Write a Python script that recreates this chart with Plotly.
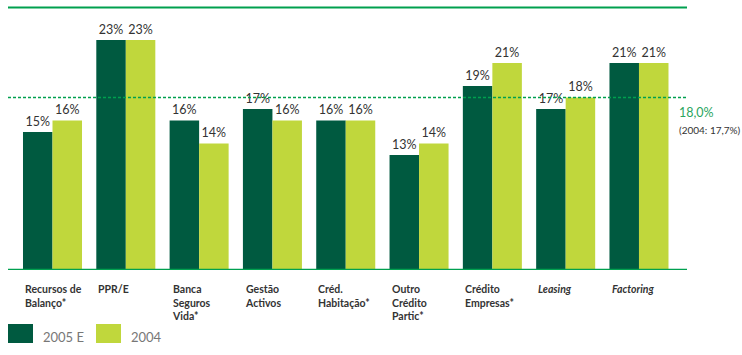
import plotly.graph_objects as go

categories = ["Recursos de<br>Balanço*", "PPR/E", "Banca<br>Seguros<br>Vida*", "Gestão<br>Activos",
              "Créd.<br>Habitação*", "Outro<br>Crédito<br>Partic*", "Crédito<br>Empresas*",
              "<i>Leasing</i>", "<i>Factoring</i>"]
values_2005 = [15, 23, 16, 17, 16, 13, 19, 17, 21]
values_2004 = [16, 23, 14, 16, 16, 14, 21, 18, 21]
average_2005 = 18.0
average_2004 = 17.7

DARK = "#005a40"
LIGHT = "#c0d73c"
LINE = "#00a04f"
TEXT = "#333333"

W, H = 742, 355
M_L, M_R, M_T, M_B = 8, 55, 10, 85
plot_w = W - M_L - M_R
plot_h = H - M_T - M_B


def px(xp):
    return (xp - M_L) / plot_w


def py(yp):
    return (H - M_B - yp) / plot_h


x = list(range(len(categories)))

fig = go.Figure()
for name, vals, col in [("2005 E", values_2005, DARK), ("2004", values_2004, LIGHT)]:
    fig.add_trace(go.Bar(
        x=x, y=vals, name=name, marker=dict(color=col, line=dict(width=0)),
        text=[f"{v}%" for v in vals], textposition="outside", cliponaxis=False,
        textfont=dict(family="Lato", size=12.5, color=TEXT),
        hoverinfo="skip",
    ))

# top rule and baseline
fig.add_shape(type="line", xref="paper", yref="paper", x0=0, x1=1, y0=py(7.5), y1=py(7.5),
              line=dict(color=LINE, width=2))
fig.add_shape(type="line", xref="paper", yref="y", x0=0, x1=1, y0=3, y1=3,
              line=dict(color=LINE, width=2.5))
# average line
fig.add_shape(type="line", xref="paper", yref="y", x0=0, x1=1, y0=average_2005, y1=average_2005,
              line=dict(color=LINE, width=1.5, dash="3px,2px"))

fig.add_annotation(x=px(677), xref="paper", y=py(112), yref="paper", xanchor="left", yanchor="middle",
                   text=f"{average_2005:.1f}%".replace(".", ","), showarrow=False,
                   font=dict(family="Lato", size=12.5, color="#2aa55e"))
fig.add_annotation(x=px(677), xref="paper", y=py(130), yref="paper", xanchor="left", yanchor="middle",
                   text=f"(2004: {average_2004:.1f}%)".replace(".", ","), showarrow=False,
                   font=dict(family="Lato", size=10, color=TEXT))

# category labels, left-aligned under each group
for i, c in enumerate(categories):
    fig.add_annotation(x=i - 0.4, xref="x", y=py(281), yref="paper", xanchor="left", yanchor="top",
                       align="left", text=f"<b>{c}</b>", showarrow=False,
                       font=dict(family="Lato", size=10.5, color=TEXT))

# legend swatches and labels
for x0, col, label in [(8, DARK, "2005 E"), (96, LIGHT, "2004")]:
    fig.add_shape(type="rect", xref="paper", yref="paper", x0=px(x0), x1=px(x0 + 25),
                  y0=py(343), y1=py(324), line=dict(width=0), fillcolor=col)
    fig.add_annotation(x=px(x0 + 33), xref="paper", y=py(337), yref="paper", xanchor="left",
                       yanchor="middle", text=label, showarrow=False,
                       font=dict(family="Lato", size=13, color="#777777"))

fig.update_layout(
    width=W, height=H, margin=dict(l=M_L, r=M_R, t=M_T, b=M_B),
    paper_bgcolor="white", plot_bgcolor="white",
    barmode="group", bargap=0.195, bargroupgap=0,
    showlegend=False,
    xaxis=dict(range=[-0.607, 8.655], showticklabels=False, showgrid=False, zeroline=False, ticks=""),
    yaxis=dict(range=[3, 25.6], showticklabels=False, showgrid=False, zeroline=False, ticks=""),
    font=dict(family="Lato"),
)

fig.write_html("out.html")
